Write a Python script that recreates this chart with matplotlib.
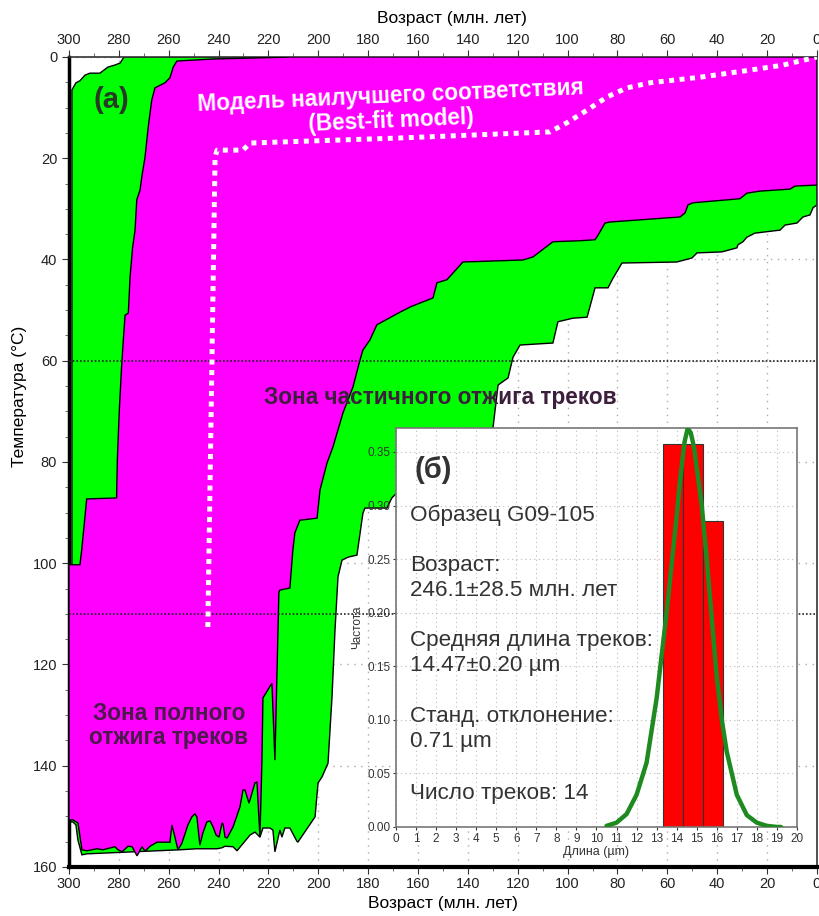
import matplotlib.pyplot as plt
from matplotlib.patches import Polygon
from matplotlib.ticker import MultipleLocator

plt.rcParams['font.family'] = ['Liberation Sans', 'DejaVu Sans']

# envelope of acceptable fits (green): age (Ma), temperature (C)
acc_age = [277.9, 0, 0, 1.6, 2.8, 5.6, 8.0, 12.8, 14.8, 24.9, 28.1, 29.7, 31.7, 32.1,
           38.1, 48.1, 50.1, 56.2, 78.2, 81.8, 83.8, 89.0, 92.2, 97.9, 103.9, 105.9,
           119.1, 121.9, 123.9, 127.9, 129.9, 147.2, 169.3, 170.5, 172.5, 181.3, 182.1,
           184.5, 188.1, 190.5, 192.1, 193.3, 194.5, 196.1, 198.5, 200.1, 201.3, 208.2,
           208.6, 211.4, 213.4, 214.6, 215.4, 217.4, 218.2, 219.4, 222.2, 223.4, 225.4,
           227.4, 232.6, 234.2, 237.4, 238.6, 240.6, 248.7, 255.5, 292.8, 294.8, 296.4,
           297.2, 298.4, 300, 300, 298.8, 298.8, 297.2, 295.6, 293.6, 291.6, 287.6,
           284.4, 281.6, 279.5]
acc_temp = [0, 0, 29.2, 29.8, 31.2, 31.6, 32.8, 33.2, 34.2, 34.8, 35.6, 36.5, 37.1, 37.7,
            38.5, 38.7, 39.7, 40.5, 40.7, 43.7, 45.6, 45.6, 51.4, 51.6, 52.3, 56.5,
            56.9, 59.3, 63.4, 64.8, 73.1, 79.6, 86.5, 87.1, 89.1, 89.1, 90.1,
            98.4, 98.8, 99.4, 102.7, 113.2, 126.4, 139.5, 142.2, 143.4, 150.1, 155.1,
            154.9, 152.3, 152.3, 154.1, 152.7, 157.0, 152.7, 152.3, 152.3, 154.1, 153.1,
            153.7, 156.8, 156.0, 155.9, 156.2, 156.4, 156.4, 156.6, 157.4, 157.6, 154.7,
            151.7, 151.1, 151.1, 100.3, 100.3, 6.5, 5.1, 4.7, 3.6, 3.2, 3.2,
            2.0, 1.6, 1.2]

# envelope of good fits (magenta)
good_age = [256.7, 242.2, 210.2, 0, 0, 8.8, 10.8, 22.9, 28.1, 30.9, 49.7, 51.7, 52.9,
            54.9, 83.0, 85.0, 87.8, 89.0, 95.1, 105.9, 113.9, 117.9, 142.0, 148.4,
            152.4, 154.0, 159.2, 163.2, 167.2, 176.5, 179.3, 182.1, 183.3, 186.1,
            190.1, 194.1, 196.5, 199.3, 200.5, 207.4, 209.4, 210.2, 211.4, 215.4,
            215.8, 217.4, 218.6, 222.2, 222.6, 223.4, 224.6, 225.4, 227.8, 229.4,
            230.2, 231.4, 234.2, 236.6, 237.4, 238.2, 238.6, 239.8, 241.0, 242.2,
            243.4, 244.7, 246.3, 247.5, 248.7, 249.5, 250.7, 252.3, 254.7, 256.3,
            257.5, 258.7, 259.5, 264.7, 267.5, 269.5, 270.7, 272.7, 274.7, 276.3,
            278.7, 280.3, 281.6, 286.4, 288.8, 292.8, 294.8, 296.4, 298.4, 300, 300,
            295.6, 294.9, 293.6, 292.9, 280.9, 280.6, 279.8, 278.9, 278.2, 277.5,
            276.2, 275.5, 274.5, 273.5, 272.8, 271.5, 270.8, 269.5, 268.2, 266.8,
            265.5, 261.5, 259.5, 258.2]
good_temp = [0.8, 0.4, 0, 0, 25.3, 25.5, 26.1, 26.5, 26.9, 28.0, 28.8, 29.2, 30.8,
             31.6, 32.6, 32.8, 35.2, 36.1, 36.3, 36.5, 39.5, 40.1, 40.5, 44.0,
             44.6, 47.6, 48.6, 49.4, 50.4, 52.9, 55.9, 57.9, 59.9, 65.2,
             70.3, 77.0, 80.2, 85.5, 91.1, 91.5, 94.0, 97.4, 104.9, 105.3,
             105.7, 138.9, 123.7, 126.6, 138.9, 154.1, 143.2, 143.4, 147.4, 144.8,
             144.8, 148.1, 152.1, 154.3, 154.1, 151.5, 151.3, 154.1, 153.7, 152.1,
             150.9, 151.1, 153.3, 155.7, 150.1, 149.5, 150.1, 151.7, 155.3, 156.6,
             154.1, 151.7, 155.1, 155.1, 155.9, 156.9, 156.0, 157.8, 156.0, 155.9,
             157.0, 156.6, 156.0, 156.6, 156.4, 156.8, 156.6, 151.3, 150.7, 150.7, 100.3,
             100.3, 97.4, 90.9, 87.3, 87.1, 79.6, 69.7, 61.2, 55.9, 51.0,
             50.6, 43.5, 37.7, 34.2, 28.2, 26.3, 23.7, 19.8, 13.8, 8.5,
             6.1, 5.1, 4.1, 2.0]

# best-fit thermal history
best_age = [244.3, 241.4, 240.6, 230.2, 227.4, 167.2, 107.1, 100.3, 92.2, 84.2, 76.2,
            67.0, 46.9, 26.9, 13.6, 0]
best_temp = [112.6, 19.8, 18.4, 18.4, 17.0, 16.0, 14.8, 13.0, 10.5, 7.9, 6.1,
             5.1, 4.0, 2.6, 1.6, 0]

# track length histogram
bin_left = [13.3, 14.3, 15.3]
bin_freq = [0.357, 0.357, 0.286]
curve_len = [10.5, 11, 11.5, 12, 12.5, 13, 13.5, 14, 14.15, 14.3, 14.4, 14.55, 14.7,
             14.8, 14.9, 15, 15.25, 15.5, 15.75, 16, 16.25, 16.5, 17, 17.5, 18, 18.5,
             19, 19.2]
curve_freq = [0.001, 0.004, 0.012, 0.03, 0.06, 0.12, 0.2, 0.29, 0.32, 0.345, 0.36,
              0.372, 0.368, 0.36, 0.35, 0.335, 0.3, 0.25, 0.195, 0.14, 0.1, 0.07,
              0.03, 0.011, 0.004, 0.001, 0.0, 0.0]

info_lines = ["Образец G09-105", "Возраст:", "246.1±28.5 млн. лет",
              "Средняя длина треков:", "14.47±0.20 µm", "Станд. отклонение:",
              "0.71 µm", "Число треков: 14"]

fig = plt.figure(figsize=(8.2, 9.16), dpi=100)
ax = fig.add_axes([0.0841, 0.0535, 0.9122, 0.8843])

ax.set_xlim(300, 0)
ax.set_ylim(160, 0)
ax.xaxis.set_major_locator(MultipleLocator(20))
ax.xaxis.set_minor_locator(MultipleLocator(10))
ax.yaxis.set_major_locator(MultipleLocator(20))
ax.yaxis.set_minor_locator(MultipleLocator(5))
ax.grid(True, which='major', color='#aaaaaa', linestyle=(0, (1, 4)), linewidth=1)
ax.set_axisbelow(True)

ax.add_patch(Polygon(list(zip(acc_age, acc_temp)), closed=True, facecolor='#00ff00',
                     edgecolor='black', linewidth=1.0, zorder=2))
ax.add_patch(Polygon(list(zip(good_age, good_temp)), closed=True, facecolor='#ff00ff',
                     edgecolor='black', linewidth=1.0, zorder=3))

for t in (60, 110):
    ax.axhline(t, color='#222222', linestyle=(0, (1, 1.2)), linewidth=1.2, zorder=4)

ax.plot(best_age, best_temp, color='white', linewidth=3.6, linestyle=(0, (1, 1.1)),
        dash_capstyle='butt', zorder=5)

ax.tick_params(axis='both', which='major', labelsize=10.5, direction='out', length=5,
               color='#333333', labelcolor='#222222')
ax.tick_params(axis='both', which='minor', direction='out', length=3, color='#555555')
ax.tick_params(axis='x', which='both', top=True, labeltop=True)
ax.tick_params(axis='x', which='major', pad=2)
for side, lw, c in (('left', 2.5, 'black'), ('bottom', 3.0, 'black'),
                    ('top', 1.2, '#333333'), ('right', 1.2, '#333333')):
    ax.spines[side].set_linewidth(lw)
    ax.spines[side].set_color(c)

ax.set_xlabel('Возраст (млн. лет)', fontsize=12.5, labelpad=4)
fig.text(0.551, 1 - 18 / 916, 'Возраст (млн. лет)', fontsize=12.5, ha='center', va='center')
fig.text(20 / 820, 1 - 396 / 916, 'Температура (°C)', fontsize=12.5, rotation=90,
         ha='center', va='center')

ax.text(282.8, 8.5, '(а)', fontsize=21, fontweight='bold', color='#263a26',
        ha='center', va='center', zorder=6)
ax.text(170.8, 7.7, 'Модель наилучшего соответствия', fontsize=16.3, fontweight='bold',
        color='white', ha='center', va='center', rotation=2.5, zorder=6)
ax.text(170.8, 12.6, '(Best-fit model)', fontsize=16.3, fontweight='bold',
        color='white', ha='center', va='center', rotation=2.5, zorder=6)
ax.text(151.2, 67.2, 'Зона частичного отжига треков', fontsize=16.3, fontweight='bold',
        color='#3d1f3d', ha='center', va='center', zorder=6)
ax.text(259.9, 132.0, 'Зона полного\nотжига треков', fontsize=16.3, fontweight='bold',
        color='#4a1a4a', ha='center', va='center', linespacing=1.05, zorder=6)

# inset: track length distribution
ins = fig.add_axes([0.4829, 0.0972, 0.489, 0.4356])
ins.set_facecolor('white')
ins.set_xlim(0, 20)
ins.set_ylim(0, 0.3724)
ins.xaxis.set_major_locator(MultipleLocator(1))
ins.yaxis.set_major_locator(MultipleLocator(0.05))
ins.grid(True, color='#bbbbbb', linestyle=(0, (1, 3)), linewidth=0.8)
ins.set_axisbelow(True)
ins.bar(bin_left, bin_freq, width=1.0, align='edge', color='#ff0000',
        edgecolor='#333333', linewidth=0.8, zorder=2)
ins.plot(curve_len, curve_freq, color='#1f8a1f', linewidth=3.2, zorder=3,
         solid_capstyle='round')
ins.tick_params(labelsize=8.5, length=2, pad=2, colors='#333333')
ins.yaxis.set_major_formatter(plt.FormatStrFormatter('%.2f'))
for s in ins.spines.values():
    s.set_color('#777777')
    s.set_linewidth(1.2)
ins.set_xlabel('Длина (µm)', fontsize=9, labelpad=1, color='#333333')
ins.set_ylabel('Частота', fontsize=8.5, labelpad=3, color='#333333')

ins.text(0.045, 0.895, '(б)', transform=ins.transAxes, fontsize=21, fontweight='bold',
         color='#333333', va='center', ha='left')
info_y = [0.78, 0.655, 0.592, 0.468, 0.405, 0.278, 0.215, 0.083]
for txt, yy in zip(info_lines, info_y):
    ins.text(0.035, yy, txt, transform=ins.transAxes, fontsize=16.2, color='#333333',
             va='center', ha='left')

fig.savefig('out.png', dpi=100)
